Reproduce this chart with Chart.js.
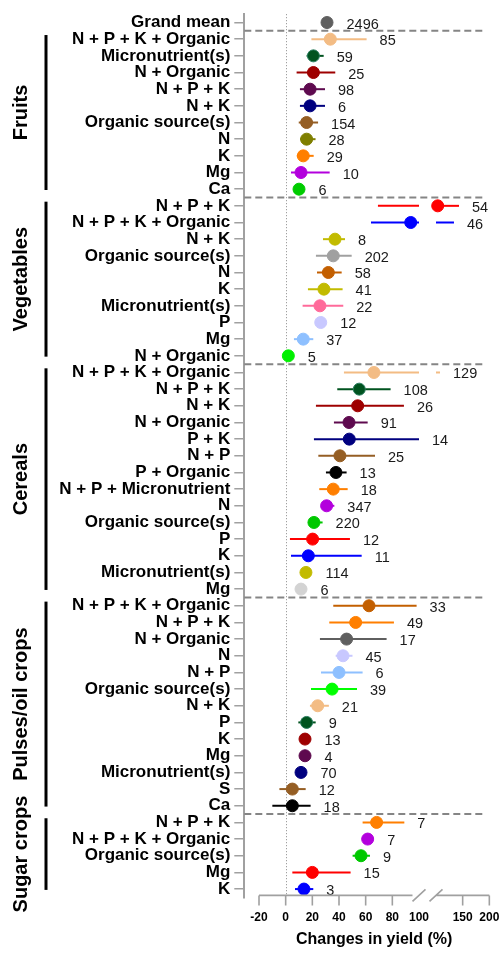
<!DOCTYPE html>
<html>
<head>
<meta charset="utf-8">
<script src="https://cdn.jsdelivr.net/npm/chart.js@4/dist/chart.umd.min.js"></script>
<style>
  html, body { margin: 0; padding: 0; background: #ffffff; }
  #wrap { width: 500px; height: 953px; }
</style>
</head>
<body>
<div id="wrap"><canvas id="forest" width="500" height="953"></canvas></div>
<script>
// ---- data ----
const rowLabels = [
  'Grand mean',
  'N + P + K + Organic', 'Micronutrient(s)', 'N + Organic', 'N + P + K', 'N + K',
  'Organic source(s)', 'N', 'K', 'Mg', 'Ca',
  'N + P + K', 'N + P + K + Organic', 'N + K', 'Organic source(s)', 'N', 'K',
  'Micronutrient(s)', 'P', 'Mg', 'N + Organic',
  'N + P + K + Organic', 'N + P + K', 'N + K', 'N + Organic', 'P + K', 'N + P',
  'P + Organic', 'N + P + Micronutrient', 'N', 'Organic source(s)', 'P', 'K',
  'Micronutrient(s)', 'Mg',
  'N + P + K + Organic', 'N + P + K', 'N + Organic', 'N', 'N + P', 'Organic source(s)',
  'N + K', 'P', 'K', 'Mg', 'Micronutrient(s)', 'S', 'Ca',
  'N + P + K', 'N + P + K + Organic', 'Organic source(s)', 'Mg', 'K'
];

const groupNames = ['Fruits', 'Vegetables', 'Cereals', 'Pulses/oil crops', 'Sugar crops'];
const groupSizes = [10, 10, 14, 13, 5];

// mean change in yield (%)
const meanChange = [
  31.0,
  33.5, 20.8, 20.8, 18.3, 18.3, 15.7, 15.7, 13.2, 11.5, 10.0,
  103.2, 93.8, 37.0, 35.7, 32.0, 28.7, 25.7, 26.3, 13.2, 2.0,
  66.2, 55.2, 54.0, 47.5, 47.7, 40.7, 37.7, 35.7, 30.7, 21.2, 20.2, 17.0, 15.2, 11.5,
  62.5, 52.5, 45.7, 43.0, 40.0, 34.8, 24.0, 15.7, 14.5, 14.5, 11.5, 5.0, 5.0,
  68.2, 61.5, 56.5, 20.0, 13.7
];
// lower confidence limit
const ciLow = [
  29.5,
  19.3, 15.7, 8.2, 10.7, 10.7, 9.8, 10.9, 8.4, 4.0, 7.5,
  69.2, 64.0, 28.0, 22.7, 23.5, 16.7, 12.7, 23.0, 6.2, -1.0,
  43.7, 38.7, 22.7, 36.2, 21.2, 24.5, 30.2, 25.2, 27.5, 17.0, 3.2, 4.0, 12.0, 8.5,
  35.7, 32.7, 25.7, 37.5, 26.5, 19.0, 18.2, 9.5, 11.5, 11.5, 8.5, -4.7, -10.0,
  57.7, 59.0, 50.2, 5.0, 7.0
];
// upper confidence limit
const ciHigh = [
  32.5,
  60.7, 28.5, 37.2, 29.5, 29.5, 24.3, 22.4, 21.0, 33.0, 12.5,
  143.1, 133.7, 44.5, 49.5, 42.0, 42.7, 43.2, 29.5, 20.7, 5.0,
  107.5, 78.7, 88.7, 61.5, 100.0, 67.0, 45.7, 46.5, 36.5, 27.7, 48.2, 57.0, 18.0, 14.5,
  98.2, 81.2, 75.7, 50.1, 57.7, 53.5, 32.4, 22.5, 17.5, 17.5, 14.5, 15.0, 18.7,
  89.0, 64.0, 63.2, 48.7, 20.7
];
// number of observations
const nObs = [
  2496,
  85, 59, 25, 98, 6, 154, 28, 29, 10, 6,
  54, 46, 8, 202, 58, 41, 22, 12, 37, 5,
  129, 108, 26, 91, 14, 25, 13, 18, 347, 220, 12, 11, 114, 6,
  33, 49, 17, 45, 6, 39, 21, 9, 13, 4, 70, 12, 18,
  7, 7, 9, 15, 3
];

const xTickValues = [-20, 0, 20, 40, 60, 80, 150, 200];
const xTickLabels = [-20, 0, 20, 40, 60, 80, 100, 150, 200];

// ---- styles ----
const DG = '#00531f';
const rowColors = [
  '#5f5f5f',
  '#f3bc84', DG, '#9e0000', '#5e0a4f', '#00007f', '#955e24', '#7f7f00', '#ff7f00', '#b300dd', '#00cc00',
  '#ff0000', '#0000ff', '#c2bb00', '#a0a0a0', '#c35f00', '#c2bb00', '#ff6a9a', '#c8c8ff', '#8ec0ff', '#00f000',
  '#f3bc84', DG, '#9e0000', '#5e0a4f', '#00007f', '#955e24', '#000000', '#ff7f00', '#b300dd', '#00c800',
  '#ff0000', '#0000ff', '#c2bb00', '#d3d3d3',
  '#c35f00', '#ff7f00', '#5f5f5f', '#c8c8ff', '#8ec0ff', '#00ff00', '#f3bc84', DG, '#9e0000', '#5e0a4f',
  '#00007f', '#955e24', '#000000',
  '#ff7f00', '#b300dd', '#00c800', '#ff0000', '#0000ff'
];
const rowBorders = rowColors.map(c => (c === DG ? '#2a7d5f' : c));

const FONT = "'Liberation Sans', Arial, sans-serif";
const AXIS_GREY = '#a0a0a0';

// ---- broken x axis: -20..100 at full width, 100..200 compressed after a gap ----
const BREAK_AT = 100;
const GAP_UNITS = 12.75;
const UPPER_FACTOR = 0.4;
function toAxisUnits(v) {
  return v <= BREAK_AT ? v : BREAK_AT + GAP_UNITS + (v - BREAK_AT) * UPPER_FACTOR;
}
function fromAxisUnits(u) {
  if (u <= BREAK_AT) return u;
  if (u < BREAK_AT + GAP_UNITS) return BREAK_AT;
  return BREAK_AT + (u - BREAK_AT - GAP_UNITS) / UPPER_FACTOR;
}

class GapScale extends Chart.LinearScale {
  static id = 'gap';
  static defaults = Chart.LinearScale.defaults;
  getPixelForValue(value) { return super.getPixelForValue(toAxisUnits(value)); }
  getValueForPixel(pixel) { return fromAxisUnits(super.getValueForPixel(pixel)); }
}
Chart.register(GapScale);

// ---- decorations: zero line, separators, error bars, counts, groups, x axis ----
const forestDecor = {
  id: 'forestDecor',
  beforeDatasetsDraw(chart) {
    const { ctx, chartArea: ca } = chart;
    const xs = chart.scales.x, ys = chart.scales.y;
    ctx.save();

    // dotted line at zero
    ctx.strokeStyle = '#8a8a8a';
    ctx.lineWidth = 1;
    ctx.setLineDash([1, 2]);
    const x0 = Math.round(xs.getPixelForValue(0)) + 0.5;
    ctx.beginPath();
    ctx.moveTo(x0, ca.top);
    ctx.lineTo(x0, ca.bottom - 3);
    ctx.stroke();

    // dashed separators between crop groups
    ctx.strokeStyle = '#858585';
    ctx.lineWidth = 2;
    ctx.setLineDash([7, 4]);
    let start = 1;
    const bounds = [];
    groupSizes.forEach(s => { bounds.push(start); start += s; });
    bounds.forEach(b => {
      const y = ys.getPixelForValue(b - 0.5);
      ctx.beginPath();
      ctx.moveTo(ca.left, y);
      ctx.lineTo(ca.right - 6, y);
      ctx.stroke();
    });
    ctx.setLineDash([]);

    // confidence intervals, interrupted at the axis break
    ctx.lineWidth = 2;
    ctx.lineCap = 'butt';
    meanChange.forEach((m, i) => {
      const y = ys.getPixelForValue(i);
      const lo = ciLow[i], hi = ciHigh[i];
      ctx.strokeStyle = rowColors[i];
      if (lo < BREAK_AT) {
        ctx.beginPath();
        ctx.moveTo(xs.getPixelForValue(lo), y);
        ctx.lineTo(xs.getPixelForValue(Math.min(hi, BREAK_AT)), y);
        ctx.stroke();
      }
      if (hi > BREAK_AT) {
        ctx.beginPath();
        ctx.moveTo(xs.getPixelForValue(Math.max(lo, BREAK_AT + 1e-6)), y);
        ctx.lineTo(xs.getPixelForValue(hi), y);
        ctx.stroke();
      }
    });
    ctx.restore();
  },
  afterDatasetsDraw(chart) {
    const { ctx, chartArea: ca } = chart;
    const xs = chart.scales.x, ys = chart.scales.y;
    ctx.save();

    // observation counts
    ctx.fillStyle = '#1a1a1a';
    ctx.font = `14.5px ${FONT}`;
    ctx.textAlign = 'left';
    ctx.textBaseline = 'middle';
    nObs.forEach((n, i) => {
      const right = Math.max(xs.getPixelForValue(ciHigh[i]), xs.getPixelForValue(meanChange[i]) + 6.5);
      ctx.fillText(String(n), right + 13, ys.getPixelForValue(i) + 2);
    });

    // crop group brackets and names
    let first = 1;
    groupSizes.forEach((size, g) => {
      const last = first + size - 1;
      const yTop = ys.getPixelForValue(first - 0.25);
      const yBot = ys.getPixelForValue(last + 0.05);
      ctx.strokeStyle = '#000';
      ctx.lineWidth = 3;
      ctx.beginPath();
      ctx.moveTo(46, yTop);
      ctx.lineTo(46, yBot);
      ctx.stroke();

      ctx.save();
      ctx.translate(27, (yTop + yBot) / 2);
      ctx.rotate(-Math.PI / 2);
      ctx.fillStyle = '#000';
      ctx.font = `bold 20px ${FONT}`;
      ctx.textAlign = 'center';
      ctx.textBaseline = 'alphabetic';
      ctx.fillText(groupNames[g], 0, 0);
      ctx.restore();
      first = last + 1;
    });

    // x axis with break marks
    const yb = ca.bottom - 2;
    const pLo = xs.getPixelForValue(BREAK_AT);
    const pHi = xs.getPixelForValue(BREAK_AT + 1e-6);
    ctx.strokeStyle = AXIS_GREY;
    ctx.lineWidth = 1.6;
    ctx.beginPath();
    ctx.moveTo(xs.getPixelForValue(-20), yb);
    ctx.lineTo(pLo - 6.5, yb);
    ctx.moveTo(pHi, yb);
    ctx.lineTo(xs.getPixelForValue(200), yb);
    [pLo, pHi].forEach(c => {
      ctx.moveTo(c - 6.5, yb + 6);
      ctx.lineTo(c + 6.5, yb - 6);
    });
    xTickValues.forEach(v => {
      const p = xs.getPixelForValue(v);
      ctx.moveTo(p, yb);
      ctx.lineTo(p, yb + 10);
    });
    ctx.stroke();

    ctx.fillStyle = '#000';
    ctx.font = `bold 12px ${FONT}`;
    ctx.textAlign = 'center';
    ctx.textBaseline = 'alphabetic';
    xTickLabels.forEach(v => {
      ctx.fillText(String(v), xs.getPixelForValue(v), yb + 25.5);
    });

    ctx.font = `bold 16px ${FONT}`;
    const mid = (xs.getPixelForValue(-20) + xs.getPixelForValue(200)) / 2;
    ctx.fillText('Changes in yield (%)', mid, yb + 49);
    ctx.restore();
  }
};

Chart.defaults.font.family = FONT;

new Chart(document.getElementById('forest'), {
  type: 'scatter',
  data: {
    datasets: [{
      data: meanChange.map((m, i) => ({ x: m, y: i })),
      pointRadius: 6,
      pointBorderWidth: 1,
      pointBackgroundColor: rowColors,
      pointBorderColor: rowBorders,
      pointHoverRadius: 6,
      clip: false
    }]
  },
  options: {
    responsive: false,
    animation: false,
    devicePixelRatio: 1,
    layout: { padding: { top: 10.6, bottom: 55.6, left: 0, right: 10.67 } },
    plugins: {
      legend: { display: false },
      tooltip: { enabled: false }
    },
    scales: {
      x: {
        type: 'gap',
        display: false,
        min: -31.03,
        max: toAxisUnits(200)
      },
      y: {
        type: 'linear',
        reverse: true,
        min: -0.5,
        max: rowLabels.length - 0.5,
        afterBuildTicks: (scale) => {
          scale.ticks = rowLabels.map((_, i) => ({ value: i }));
        },
        afterFit: (scale) => { scale.width = 244.3; },
        border: { display: true, color: AXIS_GREY, width: 2 },
        grid: {
          drawOnChartArea: false,
          drawTicks: true,
          tickLength: 10,
          color: AXIS_GREY,
          lineWidth: 1.5
        },
        ticks: {
          autoSkip: false,
          padding: 4,
          color: '#000',
          font: { size: 17, weight: 'bold', family: FONT },
          callback: (value, index) => rowLabels[index]
        }
      }
    }
  },
  plugins: [forestDecor]
});
</script>
</body>
</html>
